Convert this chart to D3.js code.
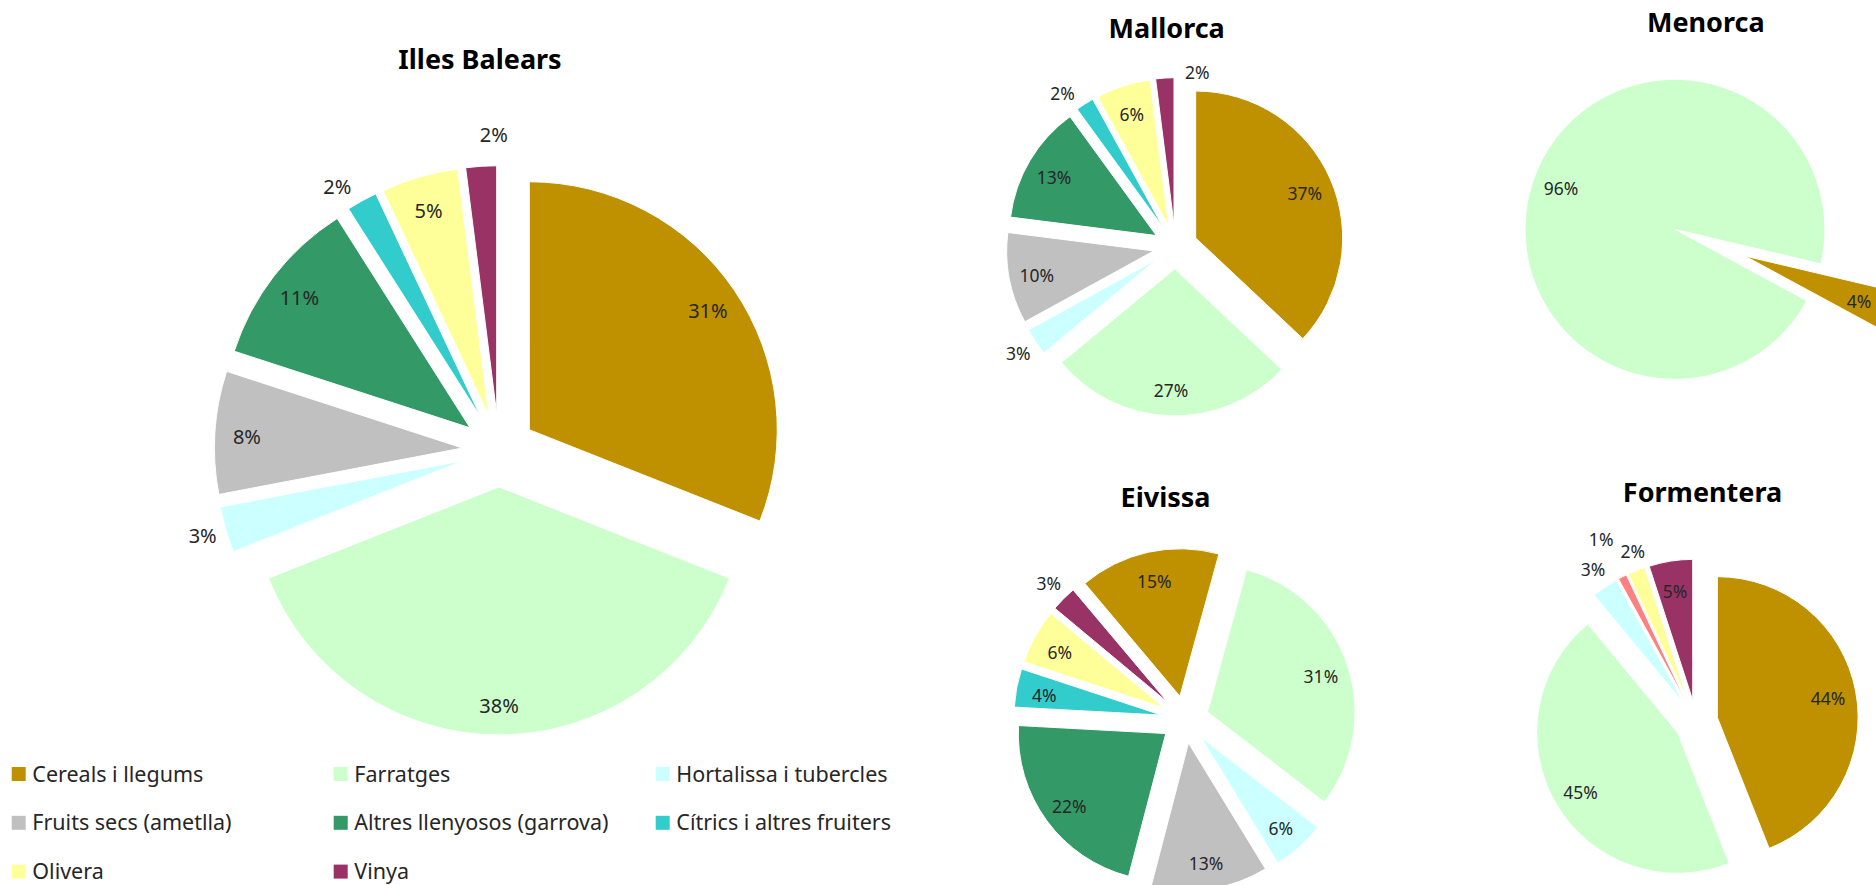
<!DOCTYPE html>
<html>
<head>
<meta charset="utf-8">
<script src="https://cdn.jsdelivr.net/npm/d3@7"></script>
<style>
  html, body { margin: 0; padding: 0; background: #ffffff; }
  svg { display: block; font-family: "Noto Sans", "Open Sans", sans-serif; }
</style>
</head>
<body>
<svg id="chart" width="1876" height="885"></svg>
<script>
// ---------------- DATA ----------------
const categories = [
  "Cereals i llegums",
  "Farratges",
  "Hortalissa i tubercles",
  "Fruits secs (ametlla)",
  "Altres llenyosos (garrova)",
  "Cítrics i altres fruiters",
  "Olivera",
  "Vinya"
];
const colors = ["#BF9000", "#CCFFCC", "#CCFFFF", "#C0C0C0", "#339966", "#33CCCC", "#FFFF99", "#993366"];
const formenteraColors = ["#BF9000", "#CCFFCC", "#CCFFFF", "#FF8080", "#339966", "#33CCCC", "#FFFF99", "#993366"];

const titles = ["Illes Balears", "Mallorca", "Menorca", "Eivissa", "Formentera"];

// percentage shares per category (same order as categories)
const illesBalears = [31, 38, 3, 8, 11, 2, 5, 2];
const mallorca     = [37, 27, 3, 10, 13, 2, 6, 2];
const menorca      = [4.2, 95.8, 0, 0, 0, 0, 0, 0];
const eivissa      = [15.4, 31.2, 5.8, 12.8, 21.8, 4.2, 6.0, 2.8];
const formentera   = [44, 45, 3, 1, 0, 0, 2, 5];

// ---------------- LAYOUT ----------------
const layout = [
  { values: illesBalears, palette: colors, cx: 499, cy: 450.3, r: 248, explode: 36.6, start: 0,
    titleX: 480, titleY: 69.3, font: 20,
    adjust: { 5: { da: -3.1, dr: 0.5 }, 7: { da: 3, dr: 6.5 } } },
  { values: mallorca, palette: colors, cx: 1175.4, cy: 246.8, r: 147, explode: 22.1, start: 0,
    titleX: 1166.7, titleY: 38.3, font: 17.5,
    adjust: { 5: { da: -4.6, dr: 0 }, 7: { da: 12.3, dr: -14 } } },
  { values: menorca, palette: colors, cx: 1710, cy: 242.7, r: 150, explode: 37.5, start: 103.3,
    titleX: 1705.8, titleY: 32.3, font: 17.5 },
  { values: eivissa, palette: colors, cx: 1185, cy: 719.5, r: 147.5, explode: 23.8, start: 319.9,
    titleX: 1165.5, titleY: 506.7, font: 17.5 },
  { values: formentera, palette: formenteraColors, cx: 1696.1, cy: 721.5, r: 140.8, explode: 21.6, start: 0,
    titleX: 1702.5, titleY: 501.7, font: 17.5,
    adjust: { 3: { da: -0.6, dr: 22 }, 6: { da: 1.3, dr: -2 } } }
];

const svg = d3.select("#chart");
svg.append("rect").attr("width", 1876).attr("height", 885).attr("fill", "#ffffff");

const rad = d => d * Math.PI / 180;

layout.forEach((cfg, ci) => {
  const total = d3.sum(cfg.values);
  const pie = d3.pie()
    .sort(null)
    .value(d => d.v)
    .startAngle(rad(cfg.start))
    .endAngle(rad(cfg.start) + 2 * Math.PI);
  const items = cfg.values.map((v, i) => ({ v, i }));
  const arcs = pie(items).filter(a => a.data.v > 0);
  const arc = d3.arc().innerRadius(0).outerRadius(cfg.r);

  const g = svg.append("g").attr("transform", `translate(${cfg.cx},${cfg.cy})`);

  // slices (each exploded outward along its bisector)
  arcs.forEach(a => {
    const mid = (a.startAngle + a.endAngle) / 2;
    a.ox = Math.sin(mid) * cfg.explode;
    a.oy = -Math.cos(mid) * cfg.explode;
    a.mid = mid;
    g.append("path")
      .attr("d", arc(a))
      .attr("transform", `translate(${a.ox},${a.oy})`)
      .attr("fill", cfg.palette[a.data.i])
      .attr("stroke", "#ffffff")
      .attr("stroke-width", 1);
  });

  // percentage labels
  const fs = cfg.font;
  arcs.forEach(a => {
    const pct = Math.round(a.data.v / total * 100);
    const inside = pct >= 4;
    let ang = a.mid;
    let rr = inside ? cfg.r - 1.6 * fs : cfg.r + 1.2 * fs;
    const adj = cfg.adjust && cfg.adjust[a.data.i];
    if (adj) { ang += rad(adj.da); rr += adj.dr; }
    const x = a.ox + Math.sin(ang) * rr;
    const y = a.oy - Math.cos(ang) * rr;
    g.append("text")
      .attr("x", x)
      .attr("y", y)
      .attr("dy", inside ? "0.5em" : "0.35em")
      .attr("text-anchor", "middle")
      .attr("font-size", fs + "px")
      .attr("fill", "#262626")
      .text(pct + "%");
  });

  // title
  svg.append("text")
    .attr("x", cfg.titleX)
    .attr("y", cfg.titleY)
    .attr("text-anchor", "middle")
    .attr("font-size", "27px")
    .attr("font-weight", "bold")
    .attr("fill", "#000000")
    .text(titles[ci]);
});

// ---------------- LEGEND ----------------
const legendCols = 3;
const legend = svg.append("g").attr("transform", "translate(11.7,774)");
categories.forEach((c, i) => {
  const col = i % legendCols;
  const row = Math.floor(i / legendCols);
  const lg = legend.append("g").attr("transform", `translate(${col * 322},${row * 48.8})`);
  lg.append("rect")
    .attr("x", 0).attr("y", -7)
    .attr("width", 14).attr("height", 14)
    .attr("fill", colors[i]);
  lg.append("text")
    .attr("x", 20.6)
    .attr("y", 0)
    .attr("dy", "0.35em")
    .attr("font-size", "21.5px")
    .attr("fill", "#262626")
    .text(c);
});
</script>
</body>
</html>
